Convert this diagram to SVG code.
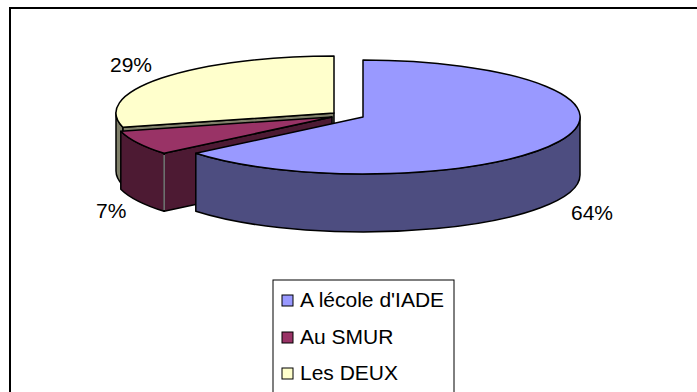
<svg xmlns="http://www.w3.org/2000/svg" width="697" height="392" viewBox="0 0 697 392">
<style>
.e{stroke:#000;stroke-width:1.5;stroke-linejoin:round}
.t{font-family:"Liberation Sans",Arial,sans-serif;font-size:21px;fill:#000}
</style>
<rect x="0" y="0" width="697" height="392" fill="#fff"/>
<rect x="10" y="8" width="700" height="400" fill="none" stroke="#000" stroke-width="2"/>
<g id="slice-les-deux">
<path class="e" fill="#80806A" d="M334,113 L122.8,127.2 L122.8,185.2 L334,171 Z"/>
<path class="e" fill="#80806A" d="M116,113 A218,57 0 0,0 122.8,127.2 L122.8,185.2 A218,57 0 0,1 116,171 Z"/>
<path class="e" fill="#FFFFCC" d="M334,113 L334,56 A218,57 0 0,0 122.8,127.2 Z"/>
</g>
<g id="slice-au-smur">
<path class="e" fill="#4D1A33" d="M332,117 L164.1,153.3 L164.1,211.3 L332,175 Z"/>
<path class="e" fill="#4D1A33" d="M120.8,131.2 A218,57 0 0,0 164.1,153.3 L164.1,211.3 A218,57 0 0,1 120.8,189.2 Z"/>
<line x1="164.1" y1="155" x2="164.1" y2="210" stroke="#bbb" stroke-width="1"/>
<path class="e" fill="#993366" d="M332,117 L120.8,131.2 A218,57 0 0,0 164.1,153.3 Z"/>
</g>
<g id="slice-ecole">
<path class="e" fill="#4D4D80" d="M580,117 A217,57 0 0,1 195.8,153.3 L195.8,211.3 A217,57 0 0,0 580,175 Z"/>
<path class="e" fill="#9999FF" d="M363,117 L363,60 A217,57 0 1,1 195.8,153.3 Z"/>
</g>
<g id="labels">
<text class="t" x="110" y="72">29%</text>
<text class="t" x="96" y="218">7%</text>
<text class="t" x="571" y="220">64%</text>
</g>
<g id="legend">
<rect x="273" y="280" width="181" height="130" fill="#fff" stroke="#000" stroke-width="1"/>
<rect x="282" y="295" width="11" height="11" fill="#9999FF" stroke="#000" stroke-width="1"/>
<text class="t" x="300" y="307">A lécole d'IADE</text>
<rect x="282" y="332" width="11" height="11" fill="#993366" stroke="#000" stroke-width="1"/>
<text class="t" x="300" y="344">Au SMUR</text>
<rect x="282" y="368" width="11" height="11" fill="#FFFFCC" stroke="#000" stroke-width="1"/>
<text class="t" x="300" y="380">Les DEUX</text>
</g>
</svg>
